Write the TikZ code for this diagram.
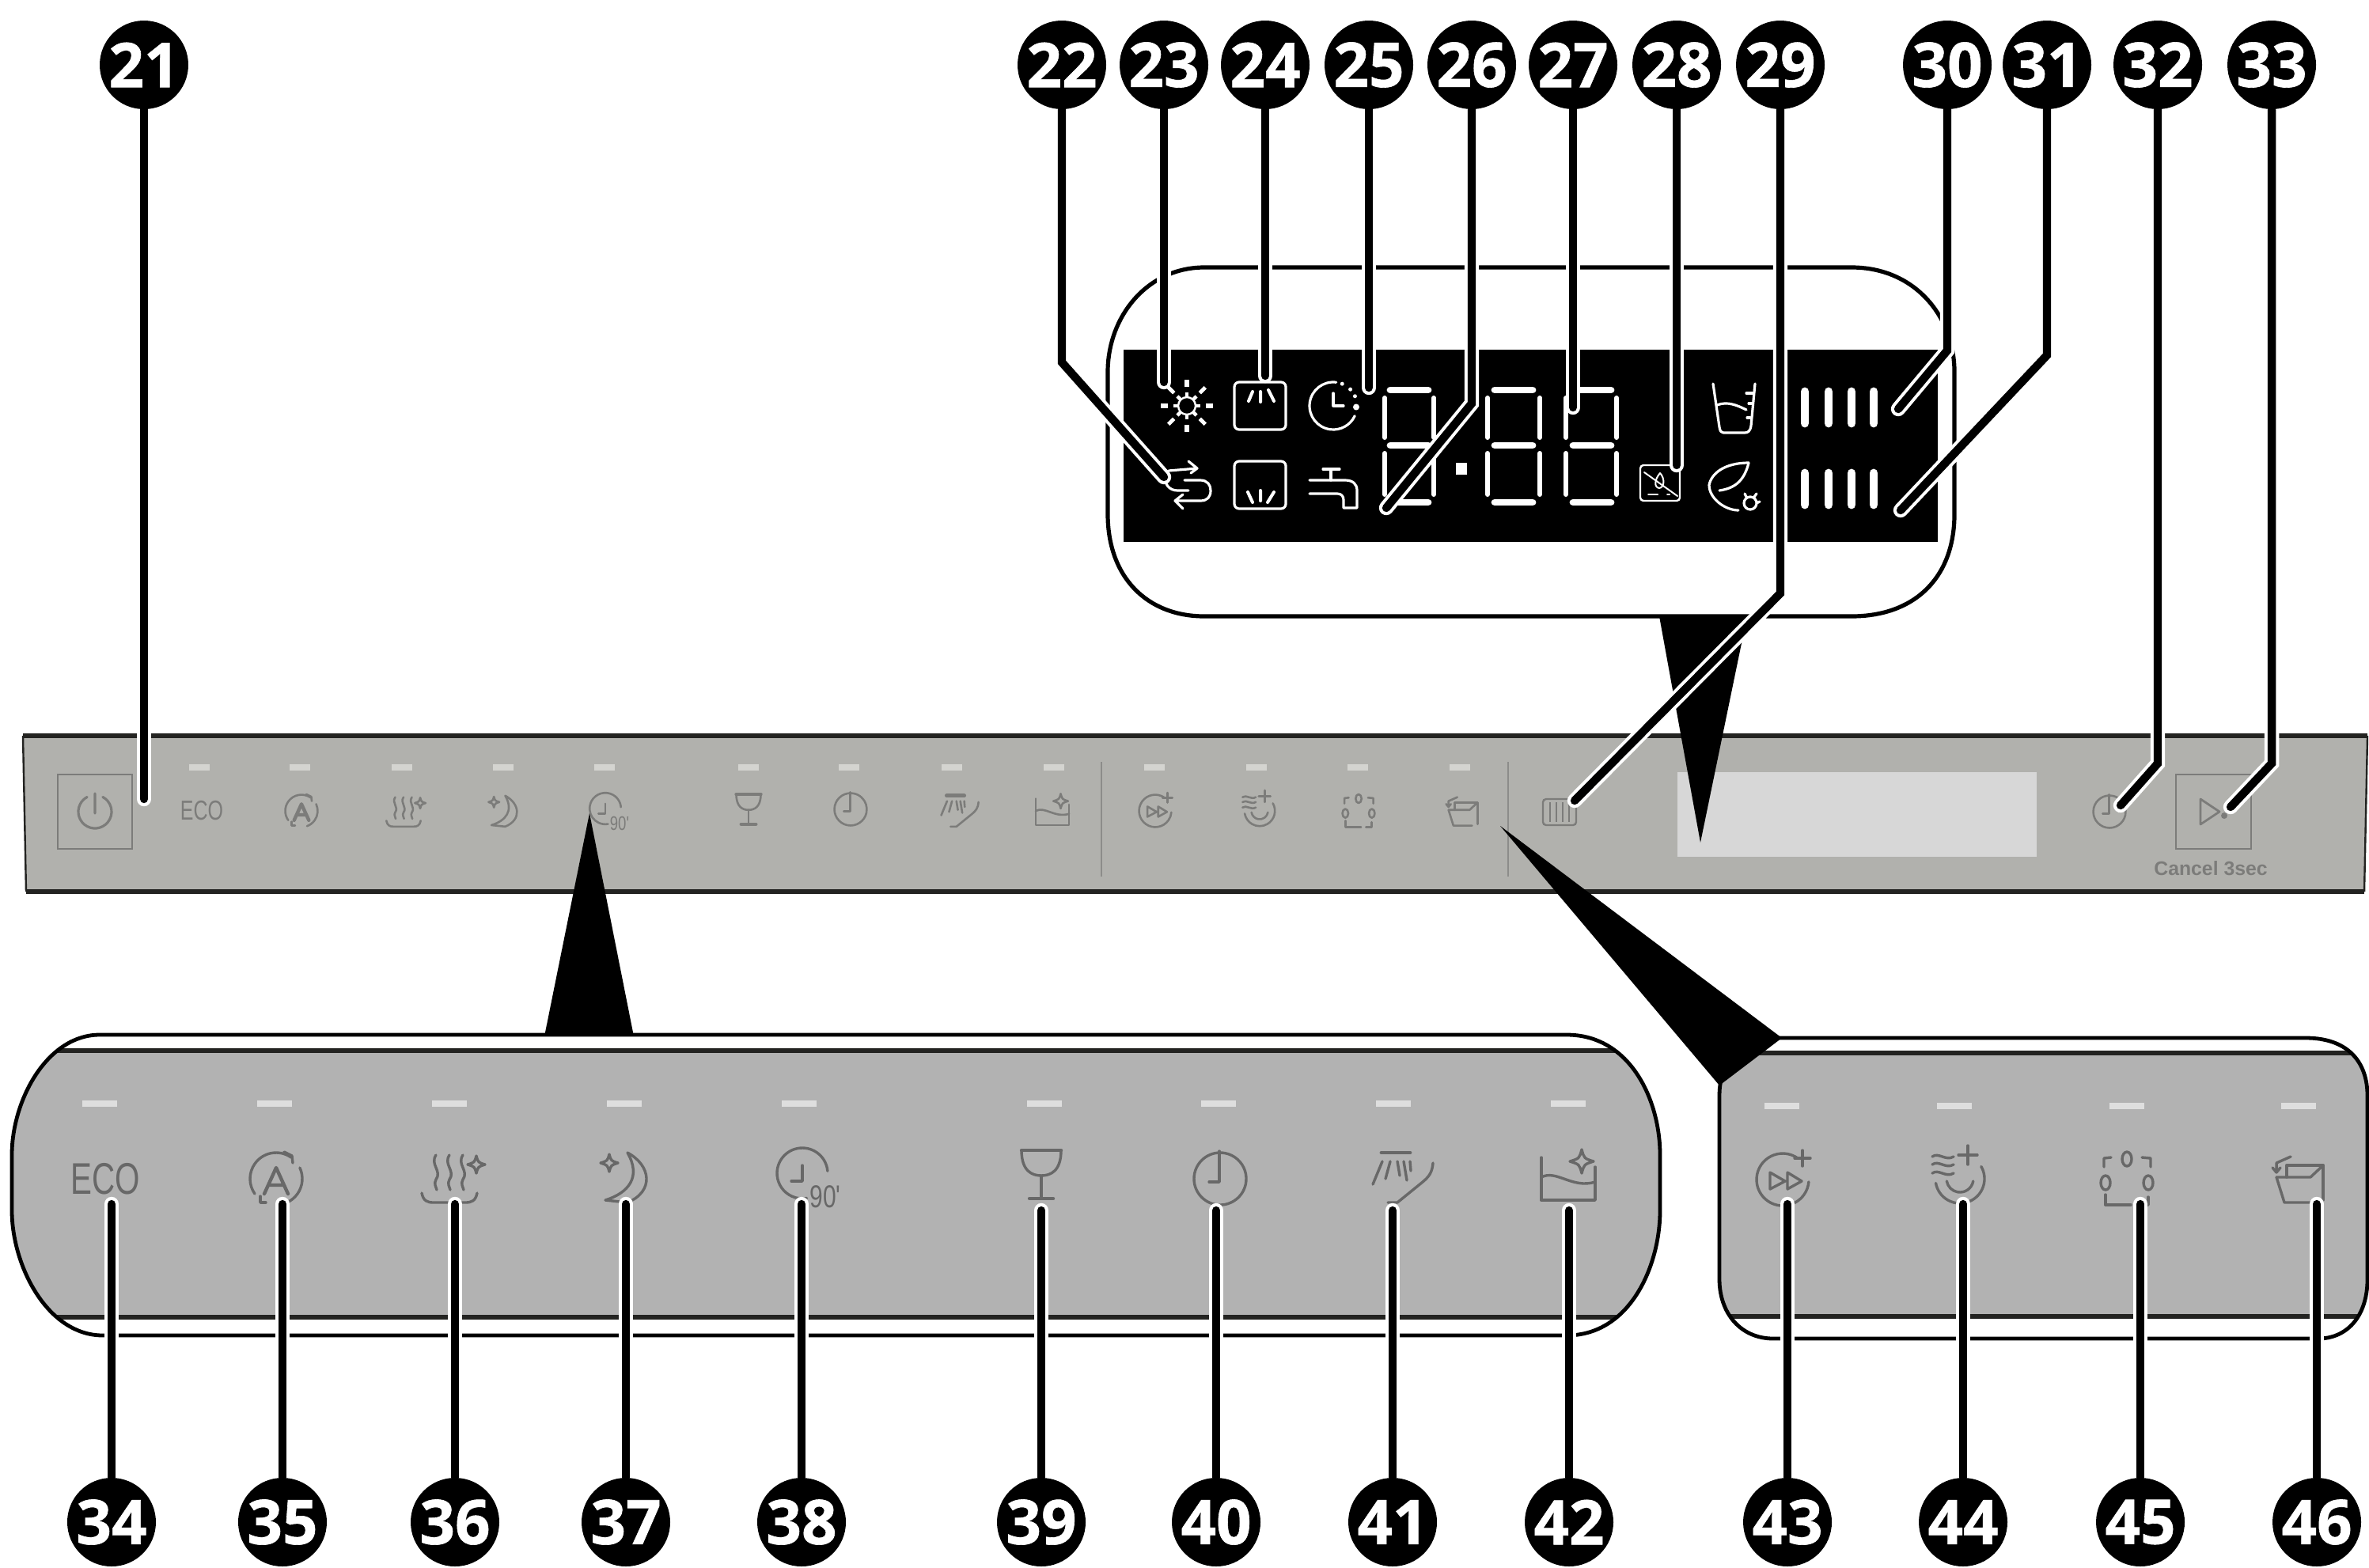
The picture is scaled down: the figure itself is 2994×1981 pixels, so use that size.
\documentclass[tikz,border=0pt]{standalone}
\usepackage{fontspec}
\setmainfont{Open Sans}[BoldFeatures={FakeBold=.8}]
\newfontfamily\libfont{Liberation Sans}
\definecolor{barfill}{HTML}{B1B1AD}
\definecolor{panelfill}{HTML}{B2B2B2}
\definecolor{edge}{HTML}{232321}
\definecolor{ledbar}{HTML}{D4D4D0}
\definecolor{ledpanel}{HTML}{DEDEDE}
\definecolor{ig}{HTML}{686868}
\definecolor{igs}{HTML}{7C7C7A}
\definecolor{shown}{HTML}{D7D7D7}
\definecolor{divider}{HTML}{8C8C8A}
\pgfdeclarelayer{base}\pgfdeclarelayer{leaders}\pgfsetlayers{base,leaders,main}
\tikzset{
 badge/.style={circle,fill=black,minimum size=28pt,inner sep=0pt,text=white,font=\fontsize{19.5}{20}\selectfont\bfseries},
 halo/.style={draw=white,line width=4.6pt,line cap=round,line join=miter},
 lead/.style={draw=black,line width=2.6pt,line cap=round,line join=miter},
 wl/.style={draw=white,line width=.8pt,line cap=round,line join=round},
 hseg/.style={draw=white,line width=2.2pt,line cap=round},
 vseg/.style={draw=white,line width=1.5pt,line cap=round},
 ict/.style={text=ig,inner sep=0pt,transform shape},
 ic/.style={draw=ig,line width=.85pt,line cap=round,line join=round},
 ledb/.style={draw=ledbar,line width=1.8pt},
 ledp/.style={draw=ledpanel,line width=2.2pt}
}
\newcommand\bigi[3]{\begin{scope}[shift={(#1,#2)}]#3\end{scope}}
\newcommand\smalli[3]{\begin{scope}[shift={(#1,#2)},scale=.62,ic/.style={draw=igs,line width=.65pt,line cap=round,line join=round},ict/.style={text=igs,inner sep=0pt,transform shape}]#3\end{scope}}
\newcommand\icstar[3]{\begin{scope}[shift={(#1,#2)},scale=#3]\draw[ic] (0,-1) .. controls (.2,-.25) .. (1,0) .. controls (.2,.25) .. (0,1) .. controls (-.2,.25) .. (-1,0) .. controls (-.2,-.25) .. (0,-1) -- cycle;\end{scope}}
\newcommand\icEco[1]{\node[ict,font=\libfont\fontsize{14}{14}\selectfont,xscale=.72] (#1) at (0,0) {ECO};}
\newcommand\icA{\draw[ic] (-55:33) arc[start angle=-55,end angle=-215,radius=33];
 \draw[ic] (-25:33) arc[start angle=-25,end angle=70,radius=33];
 \draw[ic] (10,-34) -- (20,-29) -- (21,-20);
 \draw[ic] (-20,22) -- (-20,30) -- (-13,30);
 \draw[ic,line width=1.1pt] (-15,19) -- (0,-14) -- (15,19) (-9,8) -- (9,8);}
\newcommand\icSteam{\foreach \q in {-17,0,17}{\draw[ic] (\q,-28) .. controls (\q-8,-16) and (\q+8,-8) .. (\q,3) .. controls (\q-3,8) and (\q,12) .. (\q+1,16);}
 \draw[ic] (-35,20) .. controls (-33,30) and (-28,32) .. (-20,32) -- (20,32) .. controls (28,32) and (33,30) .. (35,20);
 \icstar{34}{-16}{11}}
\newcommand\icMoon{\icstar{-19}{-18}{11}
 \draw[ic] (4,-31) .. controls (34,-15) and (38,18) .. (4,32) -- (-24,29) .. controls (5,20) and (22,0) .. (4,-31) -- cycle;}
\newcommand\icClockN[1]{\draw[ic] (-5:32) arc[start angle=-5,end angle=-280,radius=32];
 \draw[ic] (0,-10) -- (0,10) -- (-14,10);
 \node[ict,font=\libfont\fontsize{10}{10}\selectfont,xscale=.75] (#1) at (29,30) {90'};}
\newcommand\icGlass{\draw[ic,line width=1.1pt] (-25,-34) -- (25,-34);
 \draw[ic] (-25,-34) .. controls (-25,-8) and (-12,-2) .. (0,-2) .. controls (12,-2) and (25,-8) .. (25,-34);
 \draw[ic] (0,-2) -- (0,27);
 \draw[ic,line width=1.1pt] (-15,27) -- (15,27);}
\newcommand\icClock{\draw[ic] (-78:33) arc[start angle=-78,end angle=-440,radius=33];
 \draw[ic] (-1,-35) -- (-1,4) -- (-14,4);}
\newcommand\icSpray{\draw[ic,line width=1.2pt] (-14,-31) -- (22,-31);
 \draw[ic] (-13,-20) -- (-25,9) (-3,-20) -- (-9,2) (6,-20) -- (9,-2) (14,-20) -- (18,4) (22,-20) -- (23,-8);
 \draw[ic] (51,-18) .. controls (50,-5) and (45,0) .. (38,6) -- (6,32) -- (-6,32);}
\newcommand\icTank{\draw[ic] (-34,-25) -- (-34,29) -- (34,29) -- (34,-13);
 \draw[ic] (-34,0) .. controls (-15,-10) and (5,15) .. (34,6);
 \icstar{17}{-20}{15}}
\newcommand\icFast{\draw[ic] (-55:33) arc[start angle=-55,end angle=-355,radius=33];
 \draw[ic] (-16,-9) -- (-16,12) -- (3,2) -- cycle (6,-9) -- (6,12) -- (24,2) -- cycle;
 \draw[ic] (25,-37) -- (25,-17) (15,-27) -- (35,-27);}
\newcommand\icRinse{\foreach \q in {-28,-18,-7}{\draw[ic] (-35,\q) .. controls (-27,\q-6) and (-18,\q+6) .. (-8,\q);}
 \draw[ic] (10,-42) -- (10,-18) (-2,-30) -- (22,-30);
 \draw[ic] (-30:31) arc[start angle=-30,end angle=170,radius=31];
 \draw[ic] (10:17) arc[start angle=10,end angle=170,radius=17];}
\newcommand\icNozzle{\draw[ic] (0,-25) circle[x radius=6,y radius=9] (-27,5) circle[x radius=6,y radius=9] (27,5) circle[x radius=6,y radius=9];
 \draw[ic] (-29,-15) -- (-29,-26) -- (-20,-27) (30,-15) -- (30,-26) -- (19,-27);
 \draw[ic] (-27,20) -- (-27,33) -- (5,33) (27,23) -- (27,33) -- (15,33);}
\newcommand\icTray{\draw[ic] (-10,-28) -- (-28,-20) -- (-28,-8) (-33,-14) -- (-28,-8) -- (-23,-14);
 \draw[ic] (-15,-2) -- (-15,-17) -- (31,-17) -- (31,27);
 \draw[ic] (-28,-2) -- (15,-2) -- (31,-17) (-28,-2) -- (-18,30) -- (20,30);}
\newcommand\segdigit[4]{\draw[hseg] (#1,493) -- (#2,493) (#1,563) -- (#2,563) (#1,635) -- (#2,635);
 \draw[vseg] (#3,503) -- (#3,553) (#3,573) -- (#3,625) (#4,503) -- (#4,553) (#4,573) -- (#4,625);}
\begin{document}
\begin{tikzpicture}[x=.25pt,y=-.25pt]
\useasboundingbox (0,0) rectangle (2994,1981);
\begin{pgfonlayer}{base}
\fill[white] (0,0) rectangle (2994,1981);
% main bar
\fill[barfill] (29,930) -- (2992,930) -- (2988,1127) -- (33,1127) -- cycle;
\draw[edge,line width=.6pt] (29,930) -- (33,1127) (2992,930) -- (2988,1127);
\draw[edge,line width=1.4pt] (29,930) -- (2992,930) (33,1127) -- (2988,1127);
\fill[shown] (2120,976) rectangle (2574,1083);
\draw[divider,line width=.5pt] (1392,963) -- (1392,1108) (1906,963) -- (1906,1108);
\draw[igs,line width=.6pt] (73,979) rectangle (167,1073) (2750,979) rectangle (2845,1073);
\foreach \q in {252,379,508,636,764,946,1073,1203,1332,1459,1588,1716,1845}{\draw[ledb] (\q-13,970) -- (\q+13,970);}
% small bar icons
\begin{scope}[shift={(120,1026)}]
 \draw[igs,line width=.8pt,line cap=round] (-62:21) arc[start angle=-62,end angle=242,radius=21] (0,-23) -- (0,2);
\end{scope}
\smalli{255}{1025}{\icEco{ecosmall}}
\smalli{381}{1025}{\icA}
\smalli{510}{1025}{\icSteam}
\smalli{636}{1025}{\icMoon}
\smalli{765}{1022}{\icClockN{ninetysmall}}
\smalli{946}{1025}{\icGlass}
\smalli{1075}{1023}{\icClock}
\smalli{1205}{1025}{\icSpray}
\smalli{1330}{1025}{\icTank}
\smalli{1460}{1025}{\icFast}
\smalli{1592}{1025}{\icRinse}
\smalli{1717}{1025}{\icNozzle}
\smalli{1848}{1025}{\icTray}
\draw[igs,line width=.6pt,rounded corners=1pt] (1950,1010) rectangle (1992,1043);
\foreach \q in {1959,1967,1975,1983}{\draw[igs,line width=.5pt] (\q,1014) -- (\q,1039);}
\smalli{2666}{1026}{\icClock}
\draw[igs,line width=.7pt,line join=round] (2781,1010) -- (2781,1042) -- (2805,1026) -- cycle;
\fill[igs] (2811,1031) circle[radius=4];
\node[inner sep=0pt,text=igs,font=\libfont\bfseries\fontsize{6.2}{7}\selectfont] (cancel) at (2794,1098) {Cancel 3sec};
% wedges
\fill[black] (745,1028) -- (801,1310) -- (688,1310) -- cycle;
\fill[black] (2149,1065) -- (2208,779) -- (2097,779) -- cycle;
% bubble
\draw[black,line width=1.3pt,fill=white] (1522,338) -- (2340,338) .. controls (2420,338) and (2470,400) .. (2470,470) -- (2470,650) .. controls (2470,730) and (2420,779) .. (2340,779) -- (1522,779) .. controls (1450,779) and (1400,730) .. (1400,650) -- (1400,470) .. controls (1400,400) and (1450,338) .. (1522,338) -- cycle;
\fill[black] (1420,442) rectangle (2449,685);
% display content
\begin{scope}[shift={(1500,513)}]
 \foreach \a in {0,90,180,270}{\draw[white,line width=1.6pt] (\a:24) -- (\a:33);}
 \foreach \a in {45,135,225,315}{\draw[white,line width=1.2pt] (\a:23) -- (\a:33);}
 \foreach \a in {0,45,...,315}{\draw[white,line width=1.1pt] (\a:11) -- (\a:17);}
 \draw[wl,line width=.6pt] (0,0) circle[radius=11];
\end{scope}
\draw[wl,rounded corners=1.5pt] (1560,483) rectangle (1625,543) (1560,583) rectangle (1625,643);
\draw[wl,line width=1pt] (1578,507) -- (1583,495) (1593,508) -- (1593,495) (1610,507) -- (1603,493);
\draw[wl,line width=1pt] (1583,635) -- (1577,622) (1593,633) -- (1593,620) (1602,635) -- (1610,622);
\begin{scope}[shift={(1685,513)}]
 \draw[wl] (-83:30) arc[start angle=-83,end angle=-335,radius=30];
 \foreach \a in {-68,-44,-24}{\fill[white] (\a:30) circle[radius=2.5];}
 \fill[white] (3:29) circle[radius=4];
 \draw[wl] (0,-16) -- (0,0) -- (13,0);
\end{scope}
\draw[wl] (1672,593) -- (1693,593) (1682,593) -- (1682,607);
\draw[wl] (1655,607) -- (1700,607) .. controls (1710,607) and (1715,612) .. (1715,620) -- (1715,642) -- (1698,642) -- (1698,632) .. controls (1698,627) and (1695,624) .. (1690,624) -- (1655,624);
\draw[wl] (1477,595) -- (1513,592) (1502,583) -- (1513,592) -- (1505,598);
\draw[wl] (1473,598) .. controls (1470,612) and (1478,620) .. (1488,620) -- (1502,620);
\draw[wl] (1497,607) -- (1517,607) .. controls (1526,607) and (1530,613) .. (1530,620) .. controls (1530,628) and (1526,633) .. (1517,633) -- (1487,633) (1495,625) -- (1485,633) -- (1495,643);
\segdigit{1757}{1805}{1750}{1812}
\segdigit{1889}{1937}{1880}{1946}
\segdigit{1988}{2036}{1979}{2043}
\fill[white] (1840,585) rectangle (1854,600);
\draw[wl,line width=.6pt,rounded corners=1pt] (2073,588) rectangle (2123,633);
\draw[wl,line width=.5pt] (2078,597) -- (2120,627);
\draw[wl,line width=.5pt] (2098,598) .. controls (2104,604) and (2104,616) .. (2097,617) .. controls (2090,616) and (2091,606) .. (2098,598);
\draw[wl,line width=.5pt,dashed] (2083,625) -- (2110,625);
\draw[wl] (2165,485) -- (2173,540) .. controls (2174,545) and (2175,547) .. (2178,547) -- (2205,547) .. controls (2209,547) and (2212,545) .. (2213,538) -- (2218,485);
\draw[wl] (2170,512) .. controls (2183,507) and (2195,512) .. (2207,518);
\draw[wl] (2207,497) -- (2215,497) (2210,510) -- (2215,510) (2208,528) -- (2212,528);
\draw[wl] (2210,585) .. controls (2180,585) and (2163,598) .. (2160,613) .. controls (2160,630) and (2180,645) .. (2197,645);
\draw[wl] (2173,620) .. controls (2195,617) and (2205,605) .. (2210,585);
\draw[wl] (2212,636) circle[radius=8] (2207,628) -- (2205,624) (2217,628) -- (2220,624) (2220,636) -- (2224,634);
\foreach \q in {2281,2311,2340,2368}{\draw[wl,line width=2.7pt] (\q,495) -- (\q,535) (\q,598) -- (\q,638);}
% panel 1
\begin{scope}
 \clip (126,1308) -- (1980,1308) .. controls (2060,1308) and (2098,1390) .. (2098,1460) -- (2098,1530) .. controls (2098,1600) and (2060,1688) .. (1980,1688) -- (130,1688) .. controls (60,1688) and (15,1600) .. (15,1530) -- (15,1460) .. controls (15,1390) and (60,1308) .. (126,1308) -- cycle;
 \fill[white] (0,1300) rectangle (2110,1700);
 \fill[panelfill] (0,1328) rectangle (2110,1665);
 \draw[edge,line width=1.3pt] (0,1328) -- (2110,1328) (0,1665) -- (2110,1665);
\end{scope}
\draw[black,line width=1.2pt] (126,1308) -- (1980,1308) .. controls (2060,1308) and (2098,1390) .. (2098,1460) -- (2098,1530) .. controls (2098,1600) and (2060,1688) .. (1980,1688) -- (130,1688) .. controls (60,1688) and (15,1600) .. (15,1530) -- (15,1460) .. controls (15,1390) and (60,1308) .. (126,1308) -- cycle;
\foreach \q in {126,347,568,789,1010,1320,1540,1761,1982}{\draw[ledp] (\q-22,1395) -- (\q+22,1395);}
\bigi{133}{1490}{\icEco{ecobig}}
\bigi{349}{1490}{\icA}
\bigi{568}{1488}{\icSteam}
\bigi{789}{1488}{\icMoon}
\bigi{1014}{1483}{\icClockN{ninetybig}}
\bigi{1316}{1488}{\icGlass}
\bigi{1542}{1490}{\icClock}
\bigi{1760}{1488}{\icSpray}
\bigi{1982}{1488}{\icTank}
% panel 2
\begin{scope}
 \clip (2252,1312) -- (2914,1312) .. controls (2965,1312) and (2992,1340) .. (2992,1385) -- (2992,1617) .. controls (2992,1665) and (2965,1692) .. (2930,1692) -- (2241,1692) .. controls (2200,1692) and (2173,1660) .. (2173,1617) -- (2173,1385) .. controls (2173,1340) and (2200,1312) .. (2252,1312) -- cycle;
 \fill[white] (2160,1300) rectangle (2994,1700);
 \fill[panelfill] (2160,1331) rectangle (2994,1664);
 \draw[edge,line width=1.3pt] (2160,1331) -- (2994,1331) (2160,1664) -- (2994,1664);
\end{scope}
\draw[black,line width=1.2pt] (2252,1312) -- (2914,1312) .. controls (2965,1312) and (2992,1340) .. (2992,1385) -- (2992,1617) .. controls (2992,1665) and (2965,1692) .. (2930,1692) -- (2241,1692) .. controls (2200,1692) and (2173,1660) .. (2173,1617) -- (2173,1385) .. controls (2173,1340) and (2200,1312) .. (2252,1312) -- cycle;
\fill[black] (1896,1044) -- (2252,1312) -- (2173,1372) -- cycle;
\foreach \q in {2252,2470,2688,2905}{\draw[ledp] (\q-22,1398) -- (\q+22,1398);}
\bigi{2253}{1491}{\icFast}
\bigi{2477}{1490}{\icRinse}
\bigi{2688}{1490}{\icNozzle}
\bigi{2905}{1490}{\icTray}
\end{pgfonlayer}
% badges
\foreach \n/\x/\ty in {21/182/1010,23/1471/483,24/1599/475,25/1730/490,27/1988/515,28/2119/588}{
 \node[badge] (b\n) at (\x,82) {\n};
 \coordinate (t\n) at (\x,\ty);}
\foreach \n/\x/\kx/\ky/\tx/\ty in {22/1342/1342/458/1471/603,26/1860/1860/510/1752/642,29/2250/2250/750/1990/1012,30/2461/2461/443/2399/517,31/2587/2587/449/2402/645,32/2727/2727/965/2680/1018,33/2871/2871/965/2819/1020}{
 \node[badge] (b\n) at (\x,82) {\n};
 \coordinate (k\n) at (\kx,\ky);
 \coordinate (t\n) at (\tx,\ty);}
\foreach \n/\x/\ty in {34/141/1522,35/357/1522,36/575/1522,37/791/1522,38/1013/1522,39/1316/1530,40/1537/1530,41/1760/1530,42/1983/1530,43/2259/1522,44/2481/1522,45/2705/1522,46/2928/1522}{
 \node[badge] (b\n) at (\x,1924) {\n};
 \coordinate (t\n) at (\x,\ty);}
\begin{pgfonlayer}{leaders}
\foreach \n in {21,23,24,25,27,28,34,35,36,37,38,39,40,41,42,43,44,45,46}{
 \draw[halo] (b\n) -- (t\n);
 \draw[lead] (b\n) -- (t\n);}
\foreach \n in {22,26,29,30,31,32,33}{
 \draw[halo] (b\n) -- (k\n) -- (t\n);
 \draw[lead] (b\n) -- (k\n) -- (t\n);}
\end{pgfonlayer}
\end{tikzpicture}
\end{document}
